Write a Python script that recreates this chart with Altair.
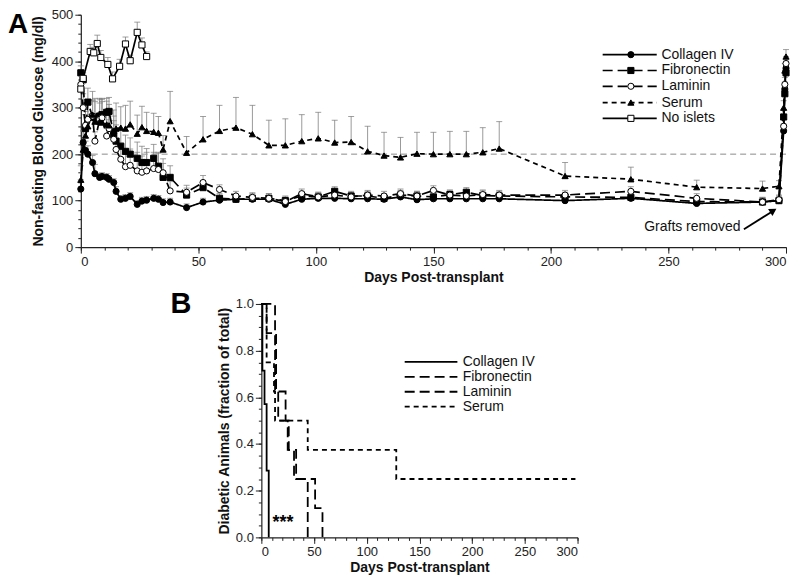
import altair as alt
import pandas as pd

FONT = "Liberation Sans"
SER = ["Collagen IV", "Fibronectin", "Laminin", "Serum", "No islets"]

# ---------------- Panel A data ----------------
grid_days = [0, 1, 2, 3, 5, 6, 8, 9, 11, 12, 14, 15, 17, 19, 21, 24, 26, 28, 31, 33,
             35, 38, 45, 52, 59, 66, 73, 80, 87, 94, 101, 108, 115, 122, 129, 136, 143, 150, 157, 164,
             171, 178, 206, 234, 262, 290, 297, 299, 299.5, 300]

col_v = [125, 225, 208, 200, 182, 158, 150, 152, 150, 146, 139, 120, 103, 105, 109, 92, 99, 101, 105, 103,
         96, 97, 85, 97, 101, 103, 103, 103, 92, 103, 105, 105, 104, 104, 103, 108, 102, 104, 104, 104,
         104, 104, 100, 105, 94, 97, 100, 250, 340, 385]
col_e = [20, 25, 20, 18, 15, 20, 8, 8, 8, 8, 8, 10, 8, 8, 8, 8, 8, 8, 8, 8,
         8, 8, 8, 8, 8, 8, 8, 8, 10, 8, 8, 8, 8, 8, 8, 8, 8, 8, 8, 8,
         8, 8, 8, 8, 8, 8, 8, 15, 15, 15]

fib_v = [375, 360, 255, 312, 280, 278, 282, 285, 290, 292, 242, 228, 217, 206, 200, 191, 182, 182, 191, 174,
         150, 150, 112, 128, 105, 103, 105, 105, 100, 110, 108, 120, 110, 110, 105, 112, 110, 108, 113, 118,
         111, 110, 108, 107, 98, 97, 100, 280, 330, 375]
fib_e = [15, 20, 30, 30, 35, 35, 35, 35, 30, 30, 40, 35, 35, 35, 35, 35, 35, 30, 30, 30,
         30, 25, 15, 15, 10, 10, 10, 10, 10, 10, 10, 10, 10, 10, 10, 10, 10, 10, 10, 10,
         10, 10, 10, 10, 10, 10, 10, 15, 15, 15]

lam_v = [350, 300, 262, 275, 282, 228, 275, 278, 239, 255, 232, 210, 189, 173, 176, 164, 161, 164, 169, 167,
         160, 121, 118, 139, 124, 110, 107, 105, 98, 115, 108, 112, 108, 112, 110, 115, 110, 122, 112, 110,
         113, 112, 112, 120, 105, 97, 102, 260, 350, 395]
lam_e = [20, 30, 30, 35, 35, 20, 35, 35, 35, 35, 40, 40, 35, 35, 35, 40, 35, 40, 35, 35,
         30, 20, 15, 15, 10, 10, 10, 10, 10, 10, 10, 10, 10, 10, 10, 10, 10, 10, 10, 10,
         10, 10, 10, 10, 10, 10, 10, 15, 15, 15]

ser_v = [145, 210, 240, 260, 285, 270, 270, 268, 264, 262, 250, 255, 257, 255, 264, 244, 258, 250, 248, 246,
         210, 271, 203, 232, 250, 257, 243, 219, 219, 228, 234, 225, 226, 206, 197, 193, 201, 200, 200, 200,
         204, 212, 153, 146, 129, 126, 131, 300, 380, 410]
ser_e = [30, 40, 45, 45, 50, 50, 50, 50, 50, 45, 45, 55, 45, 50, 50, 40, 45, 40, 40, 35,
         30, 64, 35, 49, 55, 65, 62, 54, 57, 57, 56, 48, 55, 54, 50, 43, 46, 47, 49, 49,
         53, 58, 29, 26, 15, 16, 12, 15, 15, 15]

noi_d = [0, 1, 4, 5.5, 7, 8.5, 11.5, 13.5, 16.5, 19, 21, 24, 26, 28]
noi_v = [340, 363, 421, 418, 438, 408, 393, 362, 389, 437, 401, 462, 435, 410]
noi_e = [12, 12, 15, 12, 18, 15, 15, 15, 15, 15, 12, 22, 15, 10]

# legend rows (panel A)
legA_vals = [414, 380, 346, 311, 277]
legA_days = [222, 245]
legA_mark_day = 234
legA_text_day = 247

# ---------------- Panel B data ----------------
SERB = ["Collagen IV", "Fibronectin", "Laminin", "Serum"]
km_col_d = [0, 1, 3, 5, 7]
km_col_f = [1.0, 0.714, 0.571, 0.286, 0.0]
km_fib_d = [0, 13, 23, 25, 31, 44]
km_fib_f = [1.0, 0.625, 0.5, 0.375, 0.25, 0.0]
km_lam_d = [0, 5, 14, 16, 26, 33, 51, 58]
km_lam_f = [1.0, 0.875, 0.625, 0.5, 0.375, 0.25, 0.125, 0.0]
km_ser_d = [0, 5, 12, 13, 44, 128, 298]
km_ser_f = [1.0, 0.75, 0.625, 0.5, 0.375, 0.25, 0.25]

legB_vals = [0.752, 0.688, 0.624, 0.560]
legB_days = [136, 186]
legB_text_day = 191

# ---------------- build tables ----------------
rows = []
for name, d, v, e in [("Collagen IV", grid_days, col_v, col_e),
                      ("Fibronectin", grid_days, fib_v, fib_e),
                      ("Laminin", grid_days, lam_v, lam_e),
                      ("Serum", grid_days, ser_v, ser_e),
                      ("No islets", noi_d, noi_v, noi_e)]:
    for a, b, c in zip(d, v, e):
        rows.append({"series": name, "day": a, "value": b, "hi": b + c})
dfA = pd.DataFrame(rows)

legA_line = pd.DataFrame([{"series": s, "day": dd, "value": v}
                          for s, v in zip(SER, legA_vals) for dd in legA_days])
legA_pt = pd.DataFrame([{"series": s, "day": legA_mark_day, "value": v} for s, v in zip(SER, legA_vals)])
legA_txt = pd.DataFrame([{"series": s, "day": legA_text_day, "value": v} for s, v in zip(SER, legA_vals)])

xsA = alt.Scale(domain=[0, 300], nice=False, zero=False)
ysA = alt.Scale(domain=[0, 500], nice=False)
axXA = alt.Axis(values=list(range(0, 301, 50)), title="Days Post-transplant", tickSize=6,
                labelPadding=2, titlePadding=2)
axYA = alt.Axis(values=list(range(0, 501, 100)), title="Non-fasting Blood Glucose (mg/dl)", tickSize=6,
                labelPadding=2, titlePadding=6)
XA = alt.X("day:Q", scale=xsA, axis=axXA)
YA = alt.Y("value:Q", scale=ysA, axis=axYA)

dash_scale = alt.Scale(domain=SER, range=[[1, 0], [10, 5], [10, 5], [5, 4], [1, 0]])
shape_scale = alt.Scale(domain=SER, range=["circle", "square", "circle", "triangle-up", "square"])
fill_scale = alt.Scale(domain=SER, range=["black", "black", "white", "black", "white"])

ref = alt.Chart(pd.DataFrame({"value": [200]})).mark_rule(
    color="#8a8a8a", strokeDash=[6, 4], strokeWidth=1).encode(y=YA)
err = alt.Chart(dfA).mark_rule(color="#9a9a9a", strokeWidth=1).encode(x=XA, y=YA, y2="hi:Q")
caps = alt.Chart(dfA).mark_tick(orient="horizontal", color="#777", size=6, thickness=1).encode(
    x=XA, y=alt.Y("hi:Q", scale=ysA, axis=axYA))
lines = alt.Chart(dfA).mark_line(color="black", strokeWidth=1.7).encode(
    x=XA, y=YA, detail="series:N",
    strokeDash=alt.StrokeDash("series:N", scale=dash_scale, legend=None), order="day:Q")
pts = alt.Chart(dfA).mark_point(size=38, opacity=1, stroke="black", strokeWidth=1).encode(
    x=XA, y=YA,
    shape=alt.Shape("series:N", scale=shape_scale, legend=None),
    fill=alt.Fill("series:N", scale=fill_scale, legend=None))

legL = alt.Chart(legA_line).mark_line(color="black", strokeWidth=1.7).encode(
    x=XA, y=YA, detail="series:N",
    strokeDash=alt.StrokeDash("series:N", scale=dash_scale, legend=None))
legP = alt.Chart(legA_pt).mark_point(size=38, opacity=1, stroke="black", strokeWidth=1).encode(
    x=XA, y=YA,
    shape=alt.Shape("series:N", scale=shape_scale, legend=None),
    fill=alt.Fill("series:N", scale=fill_scale, legend=None))
legT = alt.Chart(legA_txt).mark_text(align="left", baseline="middle", fontSize=14, font=FONT,
                                     color="#111").encode(x=XA, y=YA, text="series:N")

arrow_df = pd.DataFrame({"day": [282.1], "day2": [295.2], "value": [38.6], "value2": [80.0]})
arrow = alt.Chart(arrow_df).mark_rule(color="black", strokeWidth=1.8).encode(
    x=XA, x2="day2:Q", y=YA, y2="value2:Q")
head = alt.Chart(pd.DataFrame({"day": [294.6], "value": [78.5]})).mark_point(
    shape="triangle-up", angle=58, size=70, filled=True, color="black", opacity=1).encode(x=XA, y=YA)
grafts = alt.Chart(pd.DataFrame({"day": [280.6], "value": [43], "t": ["Grafts removed"]})).mark_text(
    align="right", baseline="middle", fontSize=14, font=FONT, color="#111").encode(x=XA, y=YA, text="t:N")
letterA = alt.Chart(pd.DataFrame({"t": ["A"]})).mark_text(
    align="left", baseline="alphabetic", fontSize=28, fontWeight="bold", font=FONT, color="black").encode(
    text="t:N", x=alt.value(-73), y=alt.value(18))

minorA = alt.Chart(pd.DataFrame({"day": [0], "value": [0]})).mark_point(opacity=0).encode(
    x=alt.X("day:Q", scale=xsA, axis=alt.Axis(values=list(range(0, 301, 10)), labels=False, tickSize=3,
                                               domain=False, title=None, orient="bottom")),
    y=alt.Y("value:Q", scale=ysA, axis=alt.Axis(values=list(range(0, 501, 20)), labels=False, tickSize=3,
                                                 domain=False, title=None, orient="left")))

innerA = alt.layer(ref, err, caps, lines, pts, legL, legP, legT, arrow, head, grafts, letterA)
panelA = alt.layer(innerA, minorA).resolve_axis(x="independent", y="independent").properties(
    width=707, height=233)

# ---------------- Panel B ----------------
rowsB = []
for name, d, f in [("Collagen IV", km_col_d, km_col_f), ("Fibronectin", km_fib_d, km_fib_f),
                   ("Laminin", km_lam_d, km_lam_f), ("Serum", km_ser_d, km_ser_f)]:
    for a, b in zip(d, f):
        rowsB.append({"series": name, "day": a, "frac": b})
dfB = pd.DataFrame(rowsB)
legB_line = pd.DataFrame([{"series": s, "day": dd, "frac": v}
                          for s, v in zip(SERB, legB_vals) for dd in legB_days])
legB_txt = pd.DataFrame([{"series": s, "day": legB_text_day, "frac": v} for s, v in zip(SERB, legB_vals)])

xsB = alt.Scale(domain=[0, 300], nice=False, zero=False)
ysB = alt.Scale(domain=[0, 1], nice=False)
axXB = alt.Axis(values=list(range(0, 301, 50)), title="Days Post-transplant", tickSize=6,
                labelPadding=2, titlePadding=2)
axYB = alt.Axis(values=[0, 0.2, 0.4, 0.6, 0.8, 1.0], format=".1f",
                title="Diabetic Animals (fraction of total)", tickSize=6, labelPadding=2, titlePadding=4)
XB = alt.X("day:Q", scale=xsB, axis=axXB)
YB = alt.Y("frac:Q", scale=ysB, axis=axYB)
dashB = alt.Scale(domain=SERB, range=[[1, 0], [12, 6], [10, 3, 2, 3], [3, 2]])

km = alt.Chart(dfB).mark_line(interpolate="step-after", color="black", strokeWidth=1.8).encode(
    x=XB, y=YB, detail="series:N",
    strokeDash=alt.StrokeDash("series:N", scale=dashB, legend=None), order="day:Q")
kmL = alt.Chart(legB_line).mark_line(color="black", strokeWidth=1.8).encode(
    x=XB, y=YB, detail="series:N",
    strokeDash=alt.StrokeDash("series:N", scale=dashB, legend=None))
kmT = alt.Chart(legB_txt).mark_text(align="left", baseline="middle", fontSize=14, font=FONT,
                                    color="#111").encode(x=XB, y=YB, text="series:N")
stars = alt.Chart(pd.DataFrame({"day": [20.5], "frac": [0.06], "t": ["***"]})).mark_text(
    align="center", baseline="middle", fontSize=18, fontWeight="bold", font=FONT, color="black").encode(
    x=XB, y=YB, text="t:N")
letterB = alt.Chart(pd.DataFrame({"t": ["B"]})).mark_text(
    align="left", baseline="alphabetic", fontSize=29, fontWeight="bold", font=FONT, color="black").encode(
    text="t:N", x=alt.value(-91), y=alt.value(9))
minorB = alt.Chart(pd.DataFrame({"day": [0], "frac": [0]})).mark_point(opacity=0).encode(
    x=alt.X("day:Q", scale=xsB, axis=alt.Axis(values=list(range(0, 301, 10)), labels=False, tickSize=3,
                                               domain=False, title=None, orient="bottom")),
    y=alt.Y("frac:Q", scale=ysB, axis=alt.Axis(values=[i * 0.05 for i in range(21)], labels=False,
                                                tickSize=3, domain=False, title=None, orient="left")))
innerB = alt.layer(km, kmL, kmT, stars, letterB)
panelB = alt.layer(innerB, minorB).resolve_axis(x="independent", y="independent").properties(
    width=317, height=234)

spacer = alt.Chart(pd.DataFrame({"a": [0]})).mark_point(opacity=0).properties(width=90, height=10)

chart = alt.vconcat(panelA, alt.hconcat(spacer, panelB, spacing=0), spacing=6).properties(
    padding={"left": 0, "top": 0, "right": 0, "bottom": 0}
).configure_view(stroke=None).configure_axis(
    labelFont=FONT, labelFontSize=13, labelColor="#222", titleFont=FONT, titleFontSize=14,
    titleFontWeight="bold", titleColor="#111", domainColor="#222", tickColor="#222", grid=False,
    domainWidth=1.2, tickWidth=1)

chart.save("out.html", embed_options={"renderer": "svg", "actions": False})
